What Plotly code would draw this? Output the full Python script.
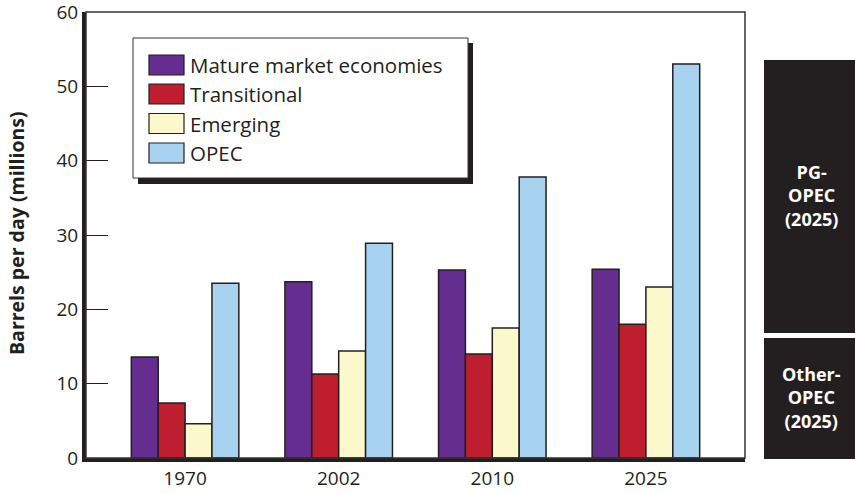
import plotly.graph_objects as go

years = ["1970", "2002", "2010", "2025"]
series_names = ["Mature market economies", "Transitional", "Emerging", "OPEC"]
mature = [13.6, 23.7, 25.3, 25.4]
transitional = [7.4, 11.3, 14.0, 18.0]
emerging = [4.6, 14.4, 17.5, 23.0]
opec = [23.5, 28.9, 37.8, 53.0]
colors = ["#662d91", "#be1e2d", "#fbf8cc", "#a8d3f0"]
y_ticks = [0, 10, 20, 30, 40, 50, 60]
side_labels = ["PG-<br>OPEC<br>(2025)", "Other-<br>OPEC<br>(2025)"]

W, H = 855, 493
L, R, T, B = 86, 745, 12, 458  # plot area in pixels

def px(x):
    return (x - L) / (R - L)

def py(y):
    return (B - y) / (B - T)

FONT = "Open Sans, Noto Sans, sans-serif"
DARK = "#231f20"

fig = go.Figure()
for name, vals, c in zip(series_names, [mature, transitional, emerging, opec], colors):
    fig.add_trace(go.Bar(x=years, y=vals, name=name, marker=dict(color=c, line=dict(color=DARK, width=1.5)),
                         showlegend=False))

shapes = []
# plot frame (thin)
shapes.append(dict(type="rect", xref="paper", yref="paper", x0=0, x1=1, y0=0, y1=1,
                   line=dict(color="#333", width=1.5), layer="above"))
# legend shadow + box
lx0, lx1, ly0, ly1 = 133, 468, 38, 178
shapes.append(dict(type="rect", xref="paper", yref="paper", x0=px(lx0 + 5), x1=px(lx1 + 5),
                   y0=py(ly1 + 6), y1=py(ly0 + 5), fillcolor=DARK, line=dict(width=0), layer="above"))
shapes.append(dict(type="rect", xref="paper", yref="paper", x0=px(lx0), x1=px(lx1),
                   y0=py(ly1), y1=py(ly0), fillcolor="white", line=dict(color="#333", width=1), layer="above"))
annotations = []
row_y = [65, 94, 123.5, 153]
for name, c, ry in zip(series_names, colors, row_y):
    shapes.append(dict(type="rect", xref="paper", yref="paper", x0=px(149), x1=px(184),
                       y0=py(ry + 10), y1=py(ry - 10), fillcolor=c, line=dict(color=DARK, width=1.2), layer="above"))
    annotations.append(dict(text=name, xref="paper", yref="paper", x=px(188), y=py(ry), xanchor="left",
                            yanchor="middle", showarrow=False, font=dict(family=FONT, size=20.5, color=DARK)))
# side boxes
boxes = [(60, 333), (338, 459)]
for (y0, y1), lab in zip(boxes, side_labels):
    shapes.append(dict(type="rect", xref="paper", yref="paper", x0=px(764), x1=px(858),
                       y0=py(y1), y1=py(y0), fillcolor=DARK, line=dict(width=0)))
    annotations.append(dict(text="<b>" + lab + "</b>", xref="paper", yref="paper", x=px(811),
                            y=py((y0 + y1) / 2 - 1), xanchor="center", yanchor="middle", showarrow=False,
                            font=dict(family=FONT, size=18, color="white"), align="center"))
# y title
annotations.append(dict(text="<b>Barrels per day (millions)</b>", xref="paper", yref="paper", x=px(16), y=py(233),
                        textangle=-90, showarrow=False, xanchor="center", yanchor="middle",
                        font=dict(family=FONT, size=19.5, color=DARK)))

fig.update_layout(
    width=W, height=H,
    margin=dict(l=L, r=W - R, t=T, b=H - B, autoexpand=False),
    paper_bgcolor="white", plot_bgcolor="white",
    barmode="group", bargap=0.3, bargroupgap=0,
    font=dict(family=FONT, color=DARK),
    shapes=shapes, annotations=annotations,
    xaxis=dict(range=[-0.645, 3.645], showgrid=False, ticks="", showline=True, linecolor=DARK, linewidth=4,
               tickfont=dict(size=19, color=DARK), zeroline=False, automargin=False),
    yaxis=dict(range=[0, 60], tickvals=y_ticks, showgrid=False, zeroline=False, ticks="inside", ticklen=22,
               tickwidth=1.2, tickcolor=DARK, showline=True, linecolor=DARK, linewidth=4,
               tickfont=dict(size=19, color=DARK), automargin=False, ticklabeloverflow="allow"),
)

fig.write_html("out.html", config={"displayModeBar": False},
               post_script="document.body.style.margin='0';document.body.style.padding='0';")
